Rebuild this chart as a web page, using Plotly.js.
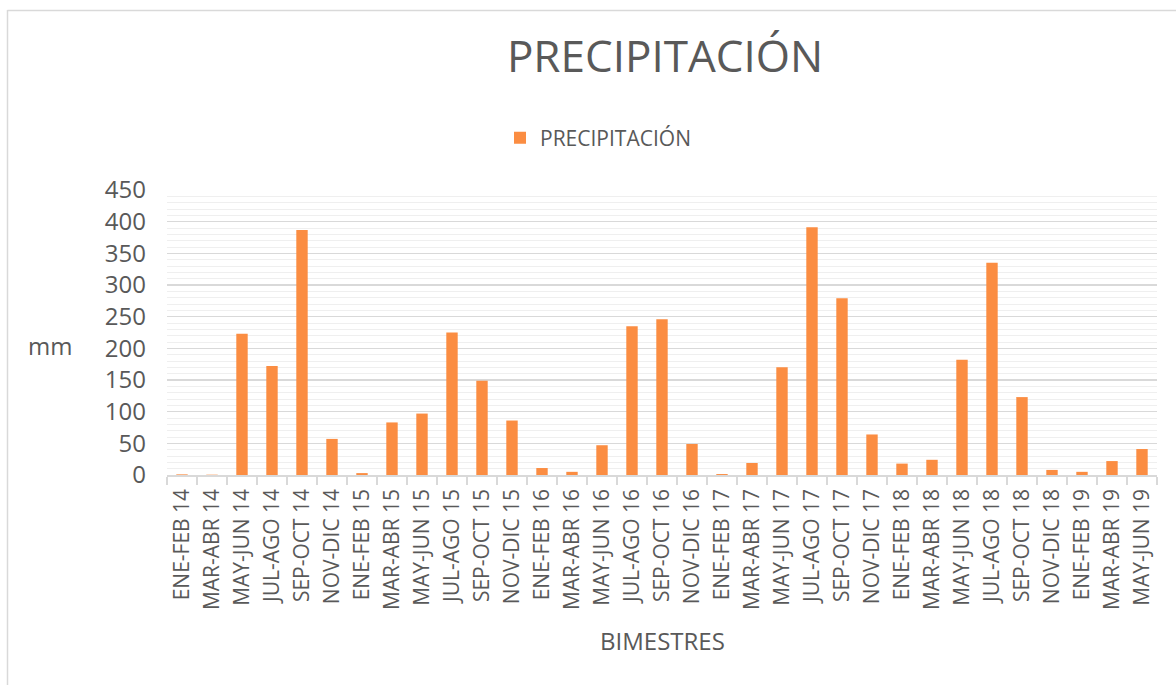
<!DOCTYPE html>
<html>
<head>
<meta charset="utf-8">
<script src="https://cdn.plot.ly/plotly-3.0.1.min.js"></script>
<style>
html,body{margin:0;padding:0;background:#fff;}
#chart{width:1176px;height:685px;}
</style>
</head>
<body>
<div id="chart"></div>
<script>
const categories = ["ENE-FEB 14","MAR-ABR 14","MAY-JUN 14","JUL-AGO 14","SEP-OCT 14","NOV-DIC 14",
"ENE-FEB 15","MAR-ABR 15","MAY-JUN 15","JUL-AGO 15","SEP-OCT 15","NOV-DIC 15",
"ENE-FEB 16","MAR-ABR 16","MAY-JUN 16","JUL-AGO 16","SEP-OCT 16","NOV-DIC 16",
"ENE-FEB 17","MAR-ABR 17","MAY-JUN 17","JUL-AGO 17","SEP-OCT 17","NOV-DIC 17",
"ENE-FEB 18","MAR-ABR 18","MAY-JUN 18","JUL-AGO 18","SEP-OCT 18","NOV-DIC 18",
"ENE-FEB 19","MAR-ABR 19","MAY-JUN 19"];
const precipitacion = [1,0.5,223,172,387,57,
3,83,97,225,149,86,
11,5,47,235,246,49,
1.5,19,170,391,279,64,
18,24,182,335,123,8,
5,22,41];
const yTicks = [0,50,100,150,200,250,300,350,400,450];

const txt = '#595959';
const font = 'Open Sans, Liberation Sans, sans-serif';

const trace = {
  type:'bar', x:categories, y:precipitacion, name:'PRECIPITACIÓN',
  marker:{color:'#fb8d42', line:{width:0}}
};

const layout = {
  width:1176, height:685,
  margin:{l:167, r:19, t:190, b:210},
  paper_bgcolor:'#ffffff', plot_bgcolor:'#ffffff',
  font:{family:font, color:txt},
  title:{text:'PRECIPITACIÓN', font:{family:font, size:44, color:txt},
    x:(665)/1176, xanchor:'center', y:1-57/685, yanchor:'middle'},
  showlegend:true,
  legend:{orientation:'h', x:(500-167)/990, xanchor:'left', y:(475-138)/285, yanchor:'middle',
    font:{family:font, size:21, color:txt}},
  bargap:0.62,
  xaxis:{type:'category', tickangle:-90, tickfont:{family:font, size:21, color:txt},
    showline:true, linecolor:'#d9d9d9', linewidth:1.5,
    ticks:'outside', tickson:'boundaries', ticklen:8, tickcolor:'#d9d9d9', tickwidth:1.5,
    ticklabelstandoff:4,
    showgrid:false, fixedrange:true},
  yaxis:{range:[0,450], tickvals:yTicks, ticktext:yTicks.map(String),
    tickfont:{family:font, size:24, color:txt}, ticklabelstandoff:20,
    showgrid:true, gridcolor:'#d9d9d9', gridwidth:1.2, zeroline:false, showline:false,
    minor:{dtick:10, showgrid:true, gridcolor:'#efefef', gridwidth:1},
    ticks:'', fixedrange:true},
  annotations:[
    {text:'mm', xref:'paper', yref:'paper', x:(50-167)/990, y:(475-345)/285,
     xanchor:'center', yanchor:'middle', showarrow:false, font:{family:font, size:24, color:txt}},
    {text:'BIMESTRES', xref:'paper', yref:'paper', x:(662-167)/990, y:(475-640)/285,
     xanchor:'center', yanchor:'middle', showarrow:false, font:{family:font, size:24, color:txt}}
  ],
  shapes:[
    {type:'line', xref:'paper', yref:'paper', x0:(7.5-167)/990, x1:(7.5-167)/990, y0:(475-10)/285, y1:(475-700)/285,
     line:{color:'#d9d9d9', width:1.5}},
    {type:'line', xref:'paper', yref:'paper', x0:(7.5-167)/990, x1:(1200-167)/990, y0:(475-10.5)/285, y1:(475-10.5)/285,
     line:{color:'#d9d9d9', width:1.5}}
  ]
};

Plotly.newPlot('chart',[trace],layout,{displayModeBar:false, staticPlot:true});
</script>
</body>
</html>
